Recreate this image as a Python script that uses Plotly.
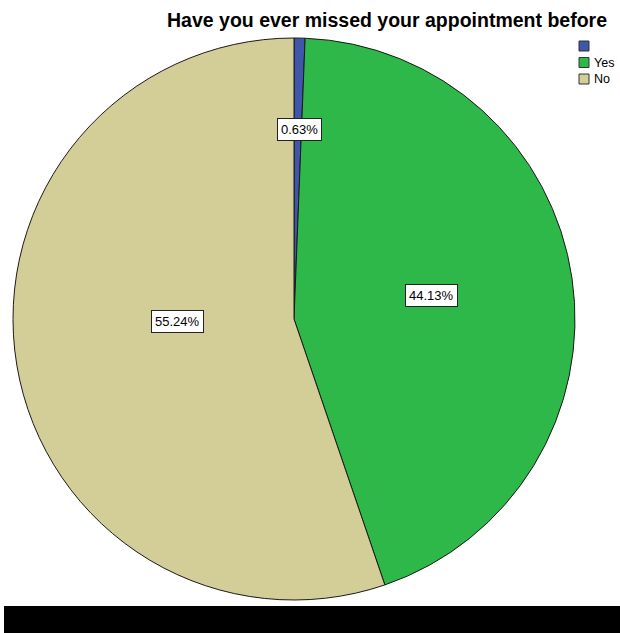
import math
import plotly.graph_objects as go

# ---- data ----
title_text = "Have you ever missed your appointment before"
labels = [" ", "Yes", "No"]
values = [0.63, 44.13, 55.24]

# ---- style ----
colors = ["#3F56AA", "#2EB84A", "#D3CE98"]
label_radius = [0.673, 0.498, 0.416]      # fraction of radius for the % boxes
label_angle_shift = [0.4, -1.4, 8.4]      # degrees

W, H = 620, 633
cx, cy, R = 294.0, 319.0, 281.0   # pixel layout of pie

fig = go.Figure(go.Pie(
    labels=labels,
    values=values,
    sort=False,
    direction="clockwise",
    rotation=0,
    textinfo="none",
    hoverinfo="label+percent",
    marker=dict(colors=colors, line=dict(color="#1a1a1a", width=1)),
    showlegend=False,
    domain=dict(x=[(cx - R) / W, (cx + R) / W], y=[1 - (cy + R) / H, 1 - (cy - R) / H]),
))

annotations = []
total = sum(values)
cum = 0.0
for i, v in enumerate(values):
    mid = (cum + v / 2) / total * 360.0 + label_angle_shift[i]
    cum += v
    a = math.radians(mid)
    px = cx + label_radius[i] * R * math.sin(a)
    py = cy - label_radius[i] * R * math.cos(a)
    annotations.append(dict(
        x=px / W, y=1 - py / H, xref="paper", yref="paper",
        xanchor="center", yanchor="middle",
        text=f"{v / total * 100:.2f}%", showarrow=False,
        font=dict(family="Liberation Sans, Arial", size=13, color="#000"),
        bgcolor="#ffffff", bordercolor="#222222", borderwidth=1, borderpad=3,
    ))

# manual legend
shapes = []
leg_x0, leg_y0, leg_step, sq = 579, 41, 16.5, 10
for i, (lab, col) in enumerate(zip(labels, colors)):
    top = leg_y0 + i * leg_step
    shapes.append(dict(type="rect", xref="paper", yref="paper",
                       x0=leg_x0 / W, x1=(leg_x0 + sq) / W,
                       y0=1 - (top + sq) / H, y1=1 - top / H,
                       fillcolor=col, line=dict(color="#333333", width=1)))
    annotations.append(dict(
        x=(leg_x0 + sq + 3) / W, y=1 - (top + sq / 2) / H, xref="paper", yref="paper",
        xanchor="left", yanchor="middle", text=lab.strip(), showarrow=False,
        font=dict(family="Liberation Sans, Arial", size=12.5, color="#000"),
    ))

# black band at bottom
shapes.append(dict(type="rect", xref="paper", yref="paper",
                   x0=4 / W, x1=1, y0=0, y1=(H - 606) / H,
                   fillcolor="#000000", line=dict(width=0), layer="above"))

fig.update_layout(
    width=W, height=H,
    margin=dict(l=0, r=0, t=0, b=0),
    paper_bgcolor="#ffffff",
    plot_bgcolor="#ffffff",
    title=dict(text=f"<b>{title_text}</b>", x=607 / W, xanchor="right",
               y=1 - 20 / H, yanchor="middle", xref="paper", yref="paper",
               font=dict(family="Liberation Sans, Arial", size=19.5, color="#000")),
    annotations=annotations,
    shapes=shapes,
)

fig.write_html(
    "out.html",
    config={"displayModeBar": False},
    post_script="document.body.style.margin='0';document.body.style.padding='0';document.body.style.overflow='hidden';",
)
